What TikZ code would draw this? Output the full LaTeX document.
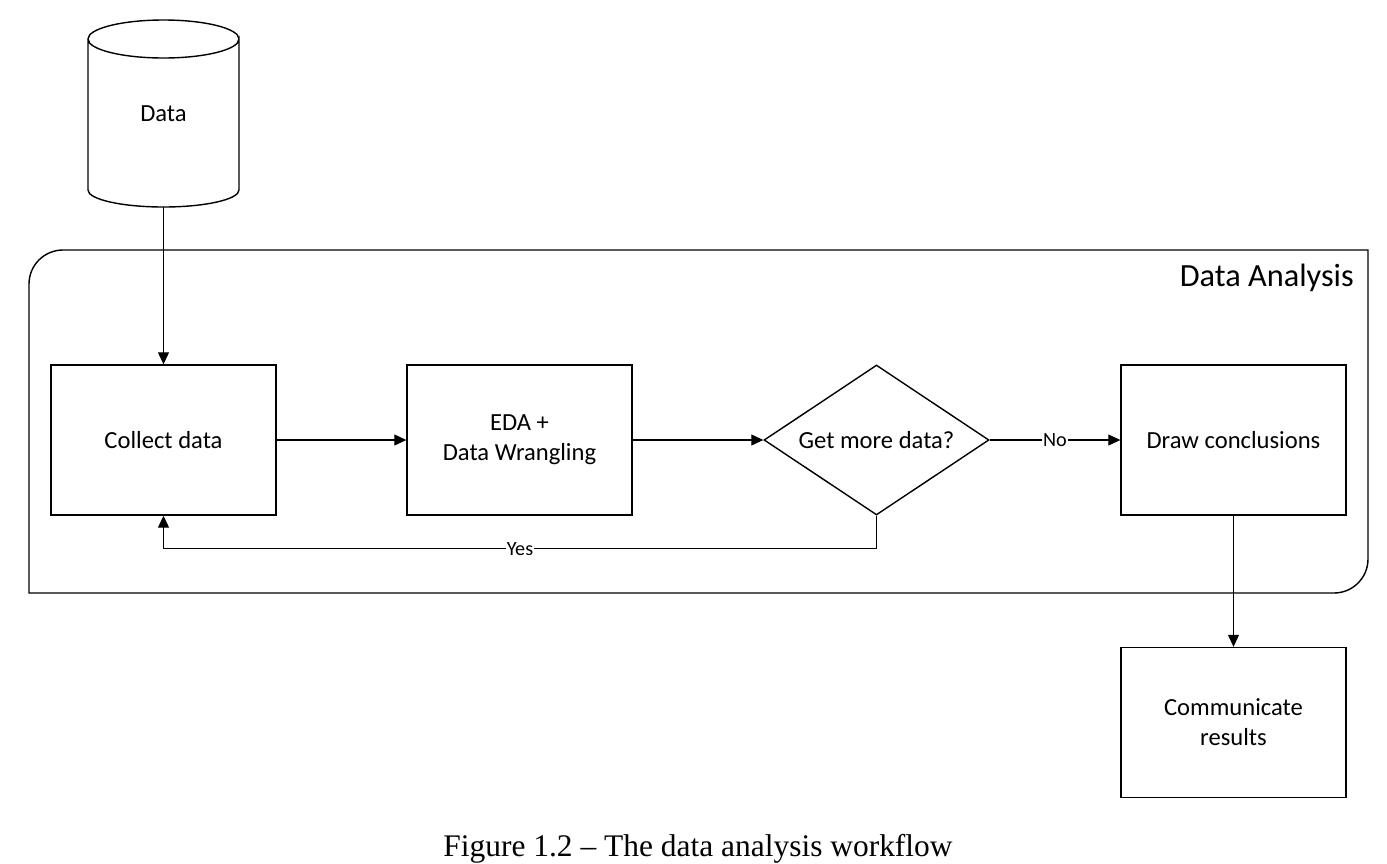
\documentclass[tikz,border=0pt]{standalone}
\usepackage{fontspec}
\setmainfont{Carlito}
\newfontfamily\capfont{Liberation Serif}
\usetikzlibrary{shapes.geometric,arrows.meta}
\begin{document}
\begin{tikzpicture}[x=0.02cm,y=-0.02cm,
  box/.style={draw,line width=0.8pt,minimum width=4.5cm,minimum height=3cm,inner sep=2pt,align=center,font=\fontsize{14}{17}\selectfont},
  dec/.style={draw,diamond,aspect=1.5,line width=0.8pt,minimum width=4.5cm,minimum height=3cm,inner sep=0pt,align=center,font=\fontsize{14}{17}\selectfont},
  arr/.style={line width=0.6pt,-{Triangle[length=0.24cm,width=0.22cm]}},
  lbl/.style={fill=white,inner sep=0.5pt,font=\fontsize{11.5}{13}\selectfont}]
\useasboundingbox (0,0) rectangle (1387,863);
% cylinder
\draw[line width=0.8pt,fill=white] (88,39) -- (88,190) arc[start angle=180,end angle=0,x radius=75.5,y radius=17] -- (239,39) arc[start angle=0,end angle=360,x radius=75.5,y radius=19];
\node[minimum width=3.02cm,minimum height=3.74cm,inner sep=0pt,font=\fontsize{14}{17}\selectfont] (data) at (163.5,113.5) {Data};
% container
\draw[line width=0.8pt] (29,593) -- (29,284) arc[start angle=180,end angle=270,radius=34] -- (1368,250) -- (1368,559) arc[start angle=0,end angle=90,radius=34] -- cycle;
\node[anchor=east,font=\fontsize{18.4}{21}\selectfont] (title) at (1360,278) {Data Analysis};
% nodes
\node[box] (collect) at (163.5,440) {Collect data};
\node[box] (eda) at (519.5,440) {EDA +\\Data Wrangling};
\node[dec] (more) at (876.5,440) {Get more data?};
\node[box] (concl) at (1233.5,440) {Draw conclusions};
\node[box] (comm) at (1233.5,722.5) {Communicate\\results};
% connectors
\draw[arr] (data.south) -- (collect.north);
\draw[arr] (collect.east) -- (eda.west);
\draw[arr] (eda.east) -- (more.west);
\draw[arr] (more.east) -- node[lbl] {No} (concl.west);
\draw[arr] (more.south) -- ++(0,33) -| node[lbl,pos=0.25] {Yes} (collect.south);
\draw[arr] (concl.south) -- (comm.north);
% caption
\node[font=\capfont\fontsize{17.9}{21}\selectfont] (cap) at (698,849) {Figure 1.2 – The data analysis workflow};
\end{tikzpicture}
\end{document}
